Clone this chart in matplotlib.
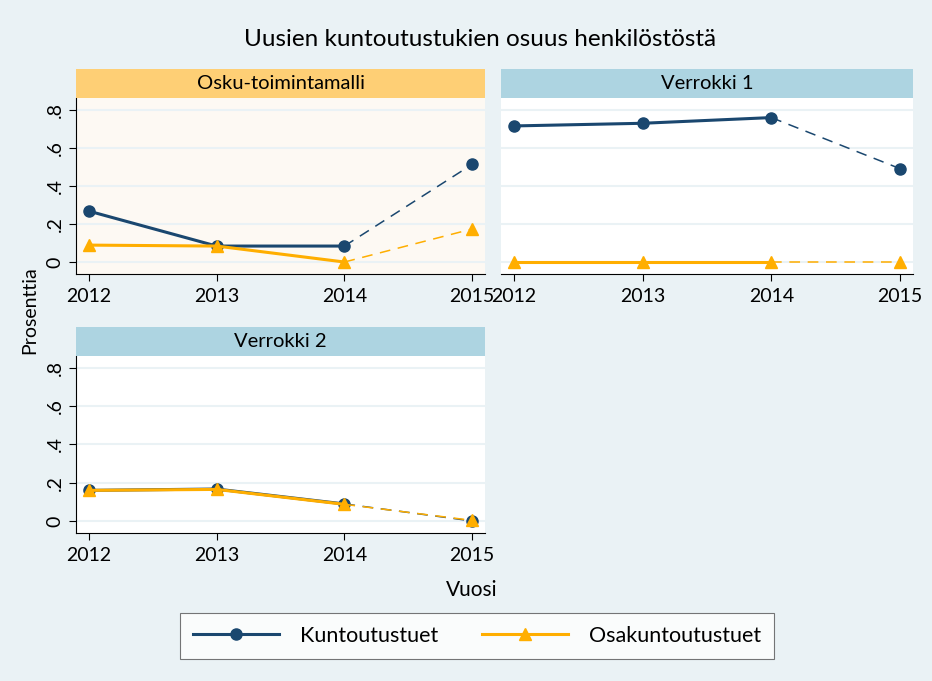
import numpy as np
import matplotlib.pyplot as plt
from matplotlib.lines import Line2D

plt.rcParams['font.family'] = ['Lato', 'DejaVu Sans']

years = [2012, 2013, 2014, 2015]
panels = ["Osku-toimintamalli", "Verrokki 1", "Verrokki 2"]
kuntoutus = {
    "Osku-toimintamalli": [0.268, 0.084, 0.084, 0.514],
    "Verrokki 1": [0.716, 0.730, 0.760, 0.491],
    "Verrokki 2": [0.160, 0.167, 0.089, 0.0],
}
osakuntoutus = {
    "Osku-toimintamalli": [0.089, 0.084, 0.0, 0.174],
    "Verrokki 1": [0.0, 0.0, 0.0, 0.0],
    "Verrokki 2": [0.160, 0.165, 0.087, 0.003],
}
yticks = [0, 0.2, 0.4, 0.6, 0.8]
ytick_labels = ["0", ".2", ".4", ".6", ".8"]

navy = "#1A476F"
orange = "#FFAE00"
bg = "#EAF2F5"

W, H = 932, 681
fig = plt.figure(figsize=(W / 100, H / 100), dpi=100, facecolor=bg)

def fr(x0, y0, x1, y1):
    # pixel box -> figure fraction
    return [x0 / W, 1 - y1 / H, (x1 - x0) / W, (y1 - y0) / H]

layout = {
    "Osku-toimintamalli": (76, 98, 485, 274, True, "#FECF75", "#FDF9F3"),
    "Verrokki 1": (501, 98, 913, 274, False, "#ADD4E1", "white"),
    "Verrokki 2": (76, 356, 485, 533, True, "#ADD4E1", "white"),
}

for name in panels:
    x0, y0, x1, y1, show_y, strip_col, face = layout[name]
    ax = fig.add_axes(fr(x0, y0, x1, y1))
    ax.set_facecolor(face)
    ax.set_xlim(2011.9, 2015.1)
    ax.set_ylim(-0.063, 0.863)
    for t in yticks:
        ax.axhline(t, color=bg, lw=1.5, zorder=0)
    k = kuntoutus[name]
    o = osakuntoutus[name]
    ax.plot(years[2:], k[2:], color=navy, lw=1.1, ls=(0, (7, 5)), zorder=2)
    ax.plot(years[:3], k[:3], color=navy, lw=2.2, zorder=2)
    ax.plot(years, k, 'o', color=navy, ms=8, zorder=3)
    ax.plot(years[2:], o[2:], color=orange, lw=1.1, ls=(0, (7, 5)), zorder=4)
    ax.plot(years[:3], o[:3], color=orange, lw=2.2, zorder=4)
    ax.plot(years, o, '^', color=orange, ms=8.5, zorder=5)

    ax.set_xticks(years)
    ax.set_xticklabels([str(y) for y in years], fontsize=14)
    ax.tick_params(axis='x', length=5, width=0.8, pad=5, colors='black')
    for s in ['top', 'right']:
        ax.spines[s].set_visible(False)
    ax.spines['bottom'].set_linewidth(0.8)
    if show_y:
        ax.set_yticks(yticks)
        ax.set_yticklabels(ytick_labels, fontsize=14, rotation=90, va='center')
        ax.tick_params(axis='y', length=5, width=0.8, pad=4)
        ax.spines['left'].set_linewidth(0.8)
    else:
        ax.set_yticks([])
        ax.spines['left'].set_visible(False)

    sax = fig.add_axes(fr(x0, y0 - 29, x1, y0))
    sax.set_facecolor(strip_col)
    sax.set_xticks([])
    sax.set_yticks([])
    for s in sax.spines.values():
        s.set_visible(False)
    sax.text(0.5, 0.5, name, ha='center', va='center', fontsize=14.5,
             transform=sax.transAxes)

fig.text(480 / W, 1 - 40 / H, "Uusien kuntoutustukien osuus henkilöstöstä",
         ha='center', va='center', fontsize=17.5)
fig.text(30 / W, 1 - 310 / H, "Prosenttia", rotation=90, ha='center', va='center', fontsize=14)
fig.text(472 / W, 1 - 590 / H, "Vuosi", ha='center', va='center', fontsize=15)

h1 = Line2D([], [], color=navy, lw=2.2, marker='o', ms=8)
h2 = Line2D([], [], color=orange, lw=2.2, marker='^', ms=8.5)
leg = fig.legend([h1, h2], ["Kuntoutustuet", "Osakuntoutustuet"], ncol=2,
                 loc='center', bbox_to_anchor=(477 / W, 1 - 636 / H),
                 fontsize=15.5, frameon=True, fancybox=False, handlelength=4.0,
                 columnspacing=2.0, borderpad=0.6, handletextpad=1.0)
leg.get_frame().set_edgecolor('#555555')
leg.get_frame().set_linewidth(0.8)

fig.savefig("out.png", dpi=100, facecolor=bg)
